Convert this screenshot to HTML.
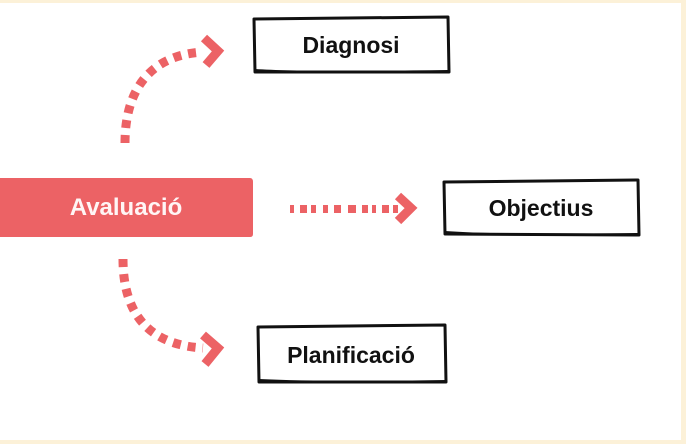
<!DOCTYPE html>
<html>
<head>
<meta charset="utf-8">
<style>
  html, body { margin:0; padding:0; background:#ffffff; }
  body { width:686px; height:444px; overflow:hidden; position:relative; }
  svg { position:absolute; left:0; top:0; }
  text { font-family: "Liberation Sans", Arial, sans-serif; font-weight:bold; }
</style>
</head>
<body>
<svg width="686" height="444" viewBox="0 0 686 444" xmlns="http://www.w3.org/2000/svg">
  <!-- cream frame -->
  <rect x="0" y="0" width="686" height="444" fill="#ffffff"/>
  <rect x="0" y="0" width="686" height="3" fill="#fcf1d8"/>
  <rect x="681" y="0" width="5" height="444" fill="#fcf1d8"/>
  <rect x="0" y="440" width="686" height="4" fill="#fcf1d8"/>

  <!-- Avaluació red box -->
  <path d="M0,178 L250,178 Q253,178 253,182 L253,234 Q253,237 250,237 L0,237 Z" fill="#ec6265"/>
  <text x="126" y="215" font-size="24" fill="#fff5f5" text-anchor="middle">Avaluació</text>

  <!-- Diagnosi box -->
  <path d="M254,19 L448,17 L449,72 L255,72 Z" fill="#fff" stroke="#111" stroke-width="3" stroke-linejoin="round"/>
  <path d="M255,70 Q300,73 448,71" fill="none" stroke="#111" stroke-width="2"/>
  <text x="351" y="53" font-size="23" fill="#111" text-anchor="middle">Diagnosi</text>

  <!-- Objectius box -->
  <path d="M444,182 L638,180 L639,235 L445,234 Z" fill="#fff" stroke="#111" stroke-width="3" stroke-linejoin="round"/>
  <path d="M445,232 Q500,236 638,234" fill="none" stroke="#111" stroke-width="2"/>
  <text x="541" y="216" font-size="23" fill="#111" text-anchor="middle">Objectius</text>

  <!-- Planificació box -->
  <path d="M258,327 L445,325 L446,382 L259,382 Z" fill="#fff" stroke="#111" stroke-width="3" stroke-linejoin="round"/>
  <path d="M259,380 Q320,383 446,381" fill="none" stroke="#111" stroke-width="2"/>
  <text x="351" y="363" font-size="23" fill="#111" text-anchor="middle">Planificació</text>

  <!-- top curved arrow -->
  <path d="M125,143 C125,90 150,55 203,52" fill="none" stroke="#ec6265" stroke-width="9" stroke-dasharray="8 7"/>
  <polyline points="204,38 218,51 206,65" fill="none" stroke="#ec6265" stroke-width="9" stroke-linejoin="miter"/>

  <!-- middle arrow -->
  <path d="M290,209 L402,209" fill="none" stroke="#ec6265" stroke-width="8" stroke-dasharray="4 6 7 4 5 7 5 6 7 7 8 6 6 4"/>
  <polyline points="398,196 411,208 398,221" fill="none" stroke="#ec6265" stroke-width="9" stroke-linejoin="miter"/>

  <!-- bottom curved arrow -->
  <path d="M123,259 C123,315 150,345 203,348" fill="none" stroke="#ec6265" stroke-width="9" stroke-dasharray="8 7"/>
  <polyline points="203,335 218,348 205,364" fill="none" stroke="#ec6265" stroke-width="9" stroke-linejoin="miter"/>
</svg>
</body>
</html>
